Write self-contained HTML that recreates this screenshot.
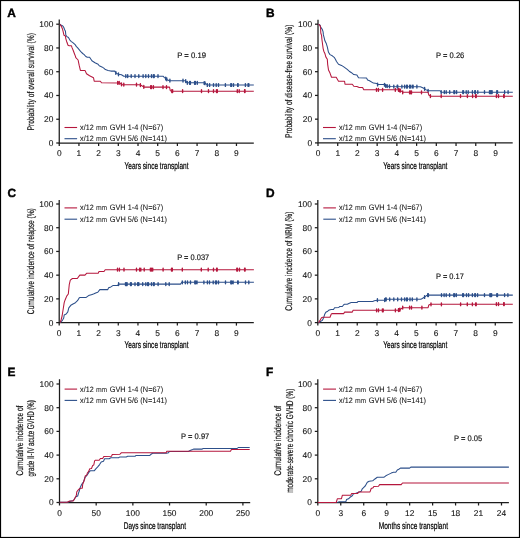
<!DOCTYPE html><html><head><meta charset="utf-8"><style>html,body{margin:0;padding:0;background:#fff;}svg{display:block;will-change:transform;}text{font-family:"Liberation Sans",sans-serif;text-rendering:geometricPrecision;}</style></head><body>
<svg width="520" height="538" viewBox="0 0 520 538">
<rect x="0" y="0" width="520" height="538" fill="#fff"/>
<rect x="0.5" y="0.5" width="519" height="537" fill="none" stroke="#000" stroke-width="1.2"/>
<text x="7.2" y="17" font-size="11.9" font-weight="bold" fill="#000" stroke="#000" stroke-width="0.4">A</text>
<g stroke="#1c1c1c" stroke-width="1.25" fill="none">
<path d="M59.25 19.6V143H253.8"/>
<path d="M56.25 143H59.25"/>
<path d="M56.25 119.24H59.25"/>
<path d="M56.25 95.48H59.25"/>
<path d="M56.25 71.72H59.25"/>
<path d="M56.25 47.96H59.25"/>
<path d="M56.25 24.2H59.25"/>
<path d="M59.25 143V146"/>
<path d="M78.94 143V146"/>
<path d="M98.63 143V146"/>
<path d="M118.32 143V146"/>
<path d="M138.01 143V146"/>
<path d="M157.7 143V146"/>
<path d="M177.39 143V146"/>
<path d="M197.08 143V146"/>
<path d="M216.77 143V146"/>
<path d="M236.46 143V146"/>
</g>
<g font-size="8.4" fill="#111" stroke="#111" stroke-width="0.1">
<text x="53.35" y="145.9" text-anchor="end">0</text>
<text x="53.35" y="122.14" text-anchor="end">20</text>
<text x="53.35" y="98.38" text-anchor="end">40</text>
<text x="53.35" y="74.62" text-anchor="end">60</text>
<text x="53.35" y="50.86" text-anchor="end">80</text>
<text x="53.35" y="27.1" text-anchor="end">100</text>
<text x="59.25" y="156.1" text-anchor="middle">0</text>
<text x="78.94" y="156.1" text-anchor="middle">1</text>
<text x="98.63" y="156.1" text-anchor="middle">2</text>
<text x="118.32" y="156.1" text-anchor="middle">3</text>
<text x="138.01" y="156.1" text-anchor="middle">4</text>
<text x="157.7" y="156.1" text-anchor="middle">5</text>
<text x="177.39" y="156.1" text-anchor="middle">6</text>
<text x="197.08" y="156.1" text-anchor="middle">7</text>
<text x="216.77" y="156.1" text-anchor="middle">8</text>
<text x="236.46" y="156.1" text-anchor="middle">9</text>
</g>
<text x="156.53" y="168.8" font-size="9.7" text-anchor="middle" textLength="64" lengthAdjust="spacingAndGlyphs" fill="#000" stroke="#000" stroke-width="0.22">Years since transplant</text>
<text transform="translate(34 81.8) rotate(-90)" x="0" y="0" font-size="9.7" text-anchor="middle" textLength="97.6" lengthAdjust="spacingAndGlyphs" fill="#111" stroke="#111" stroke-width="0.18">Probability of overall survival (%)</text>
<text x="177.2" y="58.2" font-size="8.0" fill="#111" stroke="#111" stroke-width="0.15" textLength="28.8" lengthAdjust="spacingAndGlyphs">P = 0.19</text>
<path d="M64.5 127.5H77.1" stroke="#b5173d" stroke-width="1.1"/>
<path d="M64.5 138.7H77.1" stroke="#2c4f8a" stroke-width="1.1"/>
<g font-size="8.0" fill="#111" stroke="#111" stroke-width="0.06">
<text x="80.1" y="130" font-size="7.8" textLength="13.6" lengthAdjust="spacingAndGlyphs">x/12</text>
<text x="95.9" y="130" font-size="7.1" fill="#333" stroke="#333" stroke-width="0.08" textLength="11.3" lengthAdjust="spacingAndGlyphs">mm</text>
<text x="109.7" y="130" textLength="53.4" lengthAdjust="spacingAndGlyphs">GVH 1-4 (N=67)</text>
</g>
<g font-size="8.0" fill="#111" stroke="#111" stroke-width="0.06">
<text x="80.1" y="141.2" font-size="7.8" textLength="13.6" lengthAdjust="spacingAndGlyphs">x/12</text>
<text x="95.9" y="141.2" font-size="7.1" fill="#333" stroke="#333" stroke-width="0.08" textLength="11.3" lengthAdjust="spacingAndGlyphs">mm</text>
<text x="109.7" y="141.2" textLength="57.4" lengthAdjust="spacingAndGlyphs">GVH 5/6 (N=141)</text>
</g>
<path d="M59.86 24.24 L61.35 25.2 L62.83 25.95 L63.58 27.06 L64.69 29.67 L65.43 31.15 L65.8 34.87 L66.55 36.36 L68.41 37.47 L69.9 40.07 L71.38 41.56 L72.87 42.68 L75.1 44.54 L76.22 46.39 L77.7 47.88 L79.56 50.11 L81.05 51.97 L82.7 53.5 L84.2 54.6 L85.8 56.5 L87.3 57.3 L89.6 57.3 L91.9 60.8 L95 62.7 L98.1 64.2 L99.2 65.8 L101.9 66.9 L103.8 68.1 L105.4 69.6 L108.1 70.4 L110.8 71.1 L114.6 71.1 L115.8 72.8 L116.9 73.5 L118.5 74.3 L121.5 74.7 L123.8 76.2 L163 76.2 L164.2 77.4 L165.7 78.5 L167.2 79.7 L169.5 80.7 L185 80.7 L186.2 81.6 L187.3 82.8 L203.5 82.8 L205.8 83.5 L207.3 85 L253.8 85" stroke="#2c4f8a" stroke-width="1.05" fill="none" stroke-linejoin="round"/>
<path d="M115.8 71.4v2.8M118.5 72.9v2.8M125.8 74.8v2.8M127.7 74.8v2.8M131.2 74.8v2.8M135 74.8v2.8M138.8 74.8v2.8M143.1 74.8v2.8M145.8 74.8v2.8M148.5 74.8v2.8M151.5 74.8v2.8M153.4 74.8v2.8M154.2 74.8v2.8M158 74.8v2.8M165.7 77.1v2.8M166.8 77.98v2.8M169.9 79.3v2.8M183 79.3v2.8M185.7 79.82v2.8M187.3 81.4v2.8M189.6 81.4v2.8M190.4 81.4v2.8M194.6 81.4v2.8M195.4 81.4v2.8M197.3 81.4v2.8M204.2 81.61v2.8M205 81.86v2.8M207.3 83.6v2.8M209.6 83.6v2.8M213.5 83.6v2.8M216.2 83.6v2.8M218.5 83.6v2.8M225.4 83.6v2.8M230.8 83.6v2.8M231.5 83.6v2.8M233.5 83.6v2.8M237.7 83.6v2.8M238.1 83.6v2.8M245.4 83.6v2.8M248.1 83.6v2.8M248.8 83.6v2.8" stroke="#2c4f8a" stroke-width="1.4" fill="none" stroke-linecap="round"/>
<path d="M59.86 24.24 L61.35 26.32 L62.46 28.92 L63.2 31.9 L63.95 35.24 L65.43 35.98 L65.8 38.59 L66.92 42.3 L68.04 45.28 L69.15 45.65 L71.38 45.65 L72.13 47.88 L73.24 50.48 L74.36 53.46 L75.47 56.43 L75.8 57.7 L78.1 60 L79.2 65.4 L80.4 70.4 L85 70.4 L86.5 73.8 L89.6 75.8 L93.5 77.7 L94.2 81.2 L100.4 81.2 L101.5 82.7 L120 82.9 L121.2 84.3 L122.3 84.7 L139.2 84.7 L141.5 85.5 L143.1 86.6 L144.2 87.1 L169.5 87.1 L170.3 90.6 L171.1 91.2 L253.8 91.2" stroke="#b5173d" stroke-width="1.05" fill="none" stroke-linejoin="round"/>
<path d="M117.7 81.48v2.8M119.2 81.49v2.8M121.5 83.01v2.8M123.8 83.3v2.8M136.5 83.3v2.8M140.4 83.72v2.8M143.8 85.52v2.8M150.7 85.7v2.8M151.5 85.7v2.8M153.4 85.7v2.8M163 85.7v2.8M166.5 85.7v2.8M171.8 89.8v2.8M172.6 89.8v2.8M182.6 89.8v2.8M201.5 89.8v2.8M208.5 89.8v2.8M213.5 89.8v2.8M216.5 89.8v2.8M217.3 89.8v2.8M237.3 89.8v2.8M239.2 89.8v2.8M244.6 89.8v2.8M245 89.8v2.8" stroke="#b5173d" stroke-width="1.4" fill="none" stroke-linecap="round"/>
<text x="266.1" y="16.8" font-size="11.9" font-weight="bold" fill="#000" stroke="#000" stroke-width="0.4">B</text>
<g stroke="#1c1c1c" stroke-width="1.25" fill="none">
<path d="M318 19.8V142.9H512.7"/>
<path d="M315 142.9H318"/>
<path d="M315 119.16H318"/>
<path d="M315 95.42H318"/>
<path d="M315 71.68H318"/>
<path d="M315 47.94H318"/>
<path d="M315 24.2H318"/>
<path d="M318 142.9V145.9"/>
<path d="M337.72 142.9V145.9"/>
<path d="M357.44 142.9V145.9"/>
<path d="M377.16 142.9V145.9"/>
<path d="M396.88 142.9V145.9"/>
<path d="M416.6 142.9V145.9"/>
<path d="M436.32 142.9V145.9"/>
<path d="M456.04 142.9V145.9"/>
<path d="M475.76 142.9V145.9"/>
<path d="M495.48 142.9V145.9"/>
</g>
<g font-size="8.4" fill="#111" stroke="#111" stroke-width="0.1">
<text x="312.1" y="145.8" text-anchor="end">0</text>
<text x="312.1" y="122.06" text-anchor="end">20</text>
<text x="312.1" y="98.32" text-anchor="end">40</text>
<text x="312.1" y="74.58" text-anchor="end">60</text>
<text x="312.1" y="50.84" text-anchor="end">80</text>
<text x="312.1" y="27.1" text-anchor="end">100</text>
<text x="318" y="156" text-anchor="middle">0</text>
<text x="337.72" y="156" text-anchor="middle">1</text>
<text x="357.44" y="156" text-anchor="middle">2</text>
<text x="377.16" y="156" text-anchor="middle">3</text>
<text x="396.88" y="156" text-anchor="middle">4</text>
<text x="416.6" y="156" text-anchor="middle">5</text>
<text x="436.32" y="156" text-anchor="middle">6</text>
<text x="456.04" y="156" text-anchor="middle">7</text>
<text x="475.76" y="156" text-anchor="middle">8</text>
<text x="495.48" y="156" text-anchor="middle">9</text>
</g>
<text x="415.35" y="168.8" font-size="9.7" text-anchor="middle" textLength="64" lengthAdjust="spacingAndGlyphs" fill="#000" stroke="#000" stroke-width="0.22">Years since transplant</text>
<text transform="translate(292 81.3) rotate(-90)" x="0" y="0" font-size="9.7" text-anchor="middle" textLength="113.3" lengthAdjust="spacingAndGlyphs" fill="#111" stroke="#111" stroke-width="0.18">Probability of disease-free survival (%)</text>
<text x="436.1" y="58" font-size="8.0" fill="#111" stroke="#111" stroke-width="0.15" textLength="28.2" lengthAdjust="spacingAndGlyphs">P = 0.26</text>
<path d="M323 127.5H335.8" stroke="#b5173d" stroke-width="1.1"/>
<path d="M323 138.7H335.8" stroke="#2c4f8a" stroke-width="1.1"/>
<g font-size="8.0" fill="#111" stroke="#111" stroke-width="0.06">
<text x="339.1" y="130" font-size="7.8" textLength="13.6" lengthAdjust="spacingAndGlyphs">x/12</text>
<text x="354.9" y="130" font-size="7.1" fill="#333" stroke="#333" stroke-width="0.08" textLength="11.3" lengthAdjust="spacingAndGlyphs">mm</text>
<text x="368.7" y="130" textLength="53.4" lengthAdjust="spacingAndGlyphs">GVH 1-4 (N=67)</text>
</g>
<g font-size="8.0" fill="#111" stroke="#111" stroke-width="0.06">
<text x="339.1" y="141.2" font-size="7.8" textLength="13.6" lengthAdjust="spacingAndGlyphs">x/12</text>
<text x="354.9" y="141.2" font-size="7.1" fill="#333" stroke="#333" stroke-width="0.08" textLength="11.3" lengthAdjust="spacingAndGlyphs">mm</text>
<text x="368.7" y="141.2" textLength="57.4" lengthAdjust="spacingAndGlyphs">GVH 5/6 (N=141)</text>
</g>
<path d="M318.6 24.2 L320.1 25.2 L320.8 27.4 L322.3 29.3 L323.1 31.9 L323.4 34.9 L324.2 37.8 L324.9 40.8 L326.4 43.8 L327.3 46.8 L328.5 52.3 L330 54.6 L332.3 55.8 L334.2 57.3 L335.4 59.2 L336.5 61.5 L338.5 64.2 L341.5 65.4 L343.8 66.9 L346.9 69.2 L349.2 71.2 L351.5 72.7 L353.8 74.6 L356.9 75 L358.5 77.7 L366.5 78.1 L367.6 80 L369.5 80.8 L373.4 83.1 L376.8 83.5 L377.6 84.5 L384.2 84.5 L385.7 85.8 L388 86.2 L390.3 86.6 L420.4 86.7 L422.7 87.7 L424.2 88.5 L425.8 89.6 L428.1 90.8 L440.1 90.8 L441.2 92.2 L512.8 92.2" stroke="#2c4f8a" stroke-width="1.05" fill="none" stroke-linejoin="round"/>
<path d="M377.6 83.1v2.8M384.5 83.36v2.8M385.7 84.4v2.8M387.2 84.66v2.8M389.5 85.06v2.8M393.8 85.21v2.8M397.2 85.22v2.8M397.7 85.22v2.8M401.9 85.24v2.8M404.6 85.25v2.8M406.5 85.25v2.8M407.3 85.26v2.8M409.6 85.26v2.8M410.8 85.27v2.8M412.7 85.27v2.8M413.1 85.28v2.8M416.9 85.29v2.8M424.6 87.38v2.8M428.1 89.4v2.8M441.2 90.8v2.8M444.3 90.8v2.8M446.2 90.8v2.8M449.7 90.8v2.8M453.9 90.8v2.8M454.7 90.8v2.8M456.6 90.8v2.8M462.8 90.8v2.8M463.5 90.8v2.8M466.2 90.8v2.8M468.2 90.8v2.8M472.4 90.8v2.8M474.8 90.8v2.8M475.4 90.8v2.8M477.8 90.8v2.8M484.5 90.8v2.8M489.5 90.8v2.8M490.3 90.8v2.8M491.2 90.8v2.8M492.1 90.8v2.8M496.8 90.8v2.8M497.5 90.8v2.8M504.6 90.8v2.8M508.1 90.8v2.8" stroke="#2c4f8a" stroke-width="1.4" fill="none" stroke-linecap="round"/>
<path d="M318.6 24.2 L320.1 25.6 L320.6 28.2 L320.8 33 L321.6 35.6 L321.9 39.3 L322.3 42.3 L322.7 45.3 L323.1 48.3 L323.8 51.2 L325 53.8 L325.8 56.9 L327.3 59.2 L327.7 64.6 L328.5 70 L330 73.1 L331.5 77.3 L336.2 77.3 L338.5 81.2 L344.6 81.2 L345 84.2 L352.3 84.2 L353.8 86.2 L356.9 86.5 L359.2 87.5 L362.6 87.5 L363.8 89.8 L398.1 89.8 L400.4 90.6 L401.9 91.5 L402.7 92.3 L428.1 92.3 L428.8 95 L430.4 96.2 L512.8 96.2" stroke="#b5173d" stroke-width="1.05" fill="none" stroke-linejoin="round"/>
<path d="M376.5 88.4v2.8M378.4 88.4v2.8M382.6 88.4v2.8M395.3 88.4v2.8M398.5 88.54v2.8M399.6 88.92v2.8M400.4 89.2v2.8M402.7 90.9v2.8M409.6 90.9v2.8M410.8 90.9v2.8M411.5 90.9v2.8M421.5 90.9v2.8M430.4 94.8v2.8M441.2 94.8v2.8M460.5 94.8v2.8M467.4 94.8v2.8M472.6 94.8v2.8M475.6 94.8v2.8M476.2 94.8v2.8M496.4 94.8v2.8M498.5 94.8v2.8M503.7 94.8v2.8M504.2 94.8v2.8" stroke="#b5173d" stroke-width="1.4" fill="none" stroke-linecap="round"/>
<text x="7.4" y="196.6" font-size="11.9" font-weight="bold" fill="#000" stroke="#000" stroke-width="0.4">C</text>
<g stroke="#1c1c1c" stroke-width="1.25" fill="none">
<path d="M59.2 199.9V322.6H253.8"/>
<path d="M56.2 322.6H59.2"/>
<path d="M56.2 298.88H59.2"/>
<path d="M56.2 275.16H59.2"/>
<path d="M56.2 251.44H59.2"/>
<path d="M56.2 227.72H59.2"/>
<path d="M56.2 204H59.2"/>
<path d="M59.2 322.6V325.6"/>
<path d="M78.89 322.6V325.6"/>
<path d="M98.58 322.6V325.6"/>
<path d="M118.27 322.6V325.6"/>
<path d="M137.96 322.6V325.6"/>
<path d="M157.65 322.6V325.6"/>
<path d="M177.34 322.6V325.6"/>
<path d="M197.03 322.6V325.6"/>
<path d="M216.72 322.6V325.6"/>
<path d="M236.41 322.6V325.6"/>
</g>
<g font-size="8.4" fill="#111" stroke="#111" stroke-width="0.1">
<text x="53.3" y="325.5" text-anchor="end">0</text>
<text x="53.3" y="301.78" text-anchor="end">20</text>
<text x="53.3" y="278.06" text-anchor="end">40</text>
<text x="53.3" y="254.34" text-anchor="end">60</text>
<text x="53.3" y="230.62" text-anchor="end">80</text>
<text x="53.3" y="206.9" text-anchor="end">100</text>
<text x="59.2" y="335.7" text-anchor="middle">0</text>
<text x="78.89" y="335.7" text-anchor="middle">1</text>
<text x="98.58" y="335.7" text-anchor="middle">2</text>
<text x="118.27" y="335.7" text-anchor="middle">3</text>
<text x="137.96" y="335.7" text-anchor="middle">4</text>
<text x="157.65" y="335.7" text-anchor="middle">5</text>
<text x="177.34" y="335.7" text-anchor="middle">6</text>
<text x="197.03" y="335.7" text-anchor="middle">7</text>
<text x="216.72" y="335.7" text-anchor="middle">8</text>
<text x="236.41" y="335.7" text-anchor="middle">9</text>
</g>
<text x="156.5" y="348.4" font-size="9.7" text-anchor="middle" textLength="64" lengthAdjust="spacingAndGlyphs" fill="#000" stroke="#000" stroke-width="0.22">Years since transplant</text>
<text transform="translate(34 261.2) rotate(-90)" x="0" y="0" font-size="9.7" text-anchor="middle" textLength="105.9" lengthAdjust="spacingAndGlyphs" fill="#111" stroke="#111" stroke-width="0.18">Cumulative incidence of relapse (%)</text>
<text x="177.2" y="259.7" font-size="8.0" fill="#111" stroke="#111" stroke-width="0.15" textLength="32" lengthAdjust="spacingAndGlyphs">P = 0.037</text>
<path d="M64.5 207.9H77.1" stroke="#b5173d" stroke-width="1.1"/>
<path d="M64.5 219.2H77.1" stroke="#2c4f8a" stroke-width="1.1"/>
<g font-size="8.0" fill="#111" stroke="#111" stroke-width="0.06">
<text x="80.1" y="210.4" font-size="7.8" textLength="13.6" lengthAdjust="spacingAndGlyphs">x/12</text>
<text x="95.9" y="210.4" font-size="7.1" fill="#333" stroke="#333" stroke-width="0.08" textLength="11.3" lengthAdjust="spacingAndGlyphs">mm</text>
<text x="109.7" y="210.4" textLength="53.4" lengthAdjust="spacingAndGlyphs">GVH 1-4 (N=67)</text>
</g>
<g font-size="8.0" fill="#111" stroke="#111" stroke-width="0.06">
<text x="80.1" y="221.7" font-size="7.8" textLength="13.6" lengthAdjust="spacingAndGlyphs">x/12</text>
<text x="95.9" y="221.7" font-size="7.1" fill="#333" stroke="#333" stroke-width="0.08" textLength="11.3" lengthAdjust="spacingAndGlyphs">mm</text>
<text x="109.7" y="221.7" textLength="57.4" lengthAdjust="spacingAndGlyphs">GVH 5/6 (N=141)</text>
</g>
<path d="M60.2 322.6 L61.5 321.4 L62.6 320.1 L63.7 318.1 L64.2 315 L66.2 314 L67.8 311.9 L68.8 307.8 L70.8 305.3 L73 304 L75.4 302.7 L77.5 300.7 L79.3 297.8 L80.2 297.4 L86.2 297.4 L88.6 295.6 L92.2 294.4 L94 293.8 L96.3 292.7 L97.8 292.3 L99.8 289.6 L107.8 289.6 L108.6 287.7 L110.9 286.9 L113.2 285.4 L117.8 285.4 L118.6 284.1 L180.5 284.1 L181.8 282.3 L253.9 282.3" stroke="#2c4f8a" stroke-width="1.05" fill="none" stroke-linejoin="round"/>
<path d="M118.6 282.7v2.8M125.5 282.7v2.8M126.3 282.7v2.8M127.1 282.7v2.8M130.5 282.7v2.8M131.3 282.7v2.8M135 282.7v2.8M137.7 282.7v2.8M138.8 282.7v2.8M142.7 282.7v2.8M145.8 282.7v2.8M147.7 282.7v2.8M148.5 282.7v2.8M151.5 282.7v2.8M153.5 282.7v2.8M154.2 282.7v2.8M158.1 282.7v2.8M165.8 282.7v2.8M169.2 282.7v2.8M182.3 280.9v2.8M185.3 280.9v2.8M187.5 280.9v2.8M190.5 280.9v2.8M194.8 280.9v2.8M195.7 280.9v2.8M197 280.9v2.8M203.9 280.9v2.8M207.4 280.9v2.8M209.5 280.9v2.8M213.2 280.9v2.8M215.5 280.9v2.8M216.5 280.9v2.8M218.5 280.9v2.8M225.5 280.9v2.8M230.8 280.9v2.8M231.7 280.9v2.8M233.1 280.9v2.8M237.7 280.9v2.8M238.2 280.9v2.8M245.5 280.9v2.8M248.8 280.9v2.8" stroke="#2c4f8a" stroke-width="1.4" fill="none" stroke-linecap="round"/>
<path d="M60.2 322.6 L61.2 319.5 L62.1 316 L63.2 309 L64.2 302.7 L65.2 299.7 L66.7 296.1 L68.3 294 L69.3 284.3 L70.3 280.2 L72.4 278.5 L77.3 278.5 L79.8 275.1 L85 275.1 L86.8 273.2 L98.2 273.2 L99 271.5 L104 271.5 L105.2 269.7 L253.9 269.7" stroke="#b5173d" stroke-width="1.05" fill="none" stroke-linejoin="round"/>
<path d="M117.5 268.3v2.8M119.4 268.3v2.8M124 268.3v2.8M136.5 268.3v2.8M139.6 268.3v2.8M140.8 268.3v2.8M144.2 268.3v2.8M150.4 268.3v2.8M151.5 268.3v2.8M152.7 268.3v2.8M163.1 268.3v2.8M171.5 268.3v2.8M172.3 268.3v2.8M182.3 268.3v2.8M201.3 268.3v2.8M208.2 268.3v2.8M213.5 268.3v2.8M216.6 268.3v2.8M217.2 268.3v2.8M236.8 268.3v2.8M237.5 268.3v2.8M239.5 268.3v2.8M244.6 268.3v2.8M245.1 268.3v2.8" stroke="#b5173d" stroke-width="1.4" fill="none" stroke-linecap="round"/>
<text x="266" y="196.8" font-size="11.9" font-weight="bold" fill="#000" stroke="#000" stroke-width="0.4">D</text>
<g stroke="#1c1c1c" stroke-width="1.25" fill="none">
<path d="M317.8 199.9V322.6H512.7"/>
<path d="M314.8 322.6H317.8"/>
<path d="M314.8 298.88H317.8"/>
<path d="M314.8 275.16H317.8"/>
<path d="M314.8 251.44H317.8"/>
<path d="M314.8 227.72H317.8"/>
<path d="M314.8 204H317.8"/>
<path d="M317.8 322.6V325.6"/>
<path d="M337.52 322.6V325.6"/>
<path d="M357.24 322.6V325.6"/>
<path d="M376.96 322.6V325.6"/>
<path d="M396.68 322.6V325.6"/>
<path d="M416.4 322.6V325.6"/>
<path d="M436.12 322.6V325.6"/>
<path d="M455.84 322.6V325.6"/>
<path d="M475.56 322.6V325.6"/>
<path d="M495.28 322.6V325.6"/>
</g>
<g font-size="8.4" fill="#111" stroke="#111" stroke-width="0.1">
<text x="311.9" y="325.5" text-anchor="end">0</text>
<text x="311.9" y="301.78" text-anchor="end">20</text>
<text x="311.9" y="278.06" text-anchor="end">40</text>
<text x="311.9" y="254.34" text-anchor="end">60</text>
<text x="311.9" y="230.62" text-anchor="end">80</text>
<text x="311.9" y="206.9" text-anchor="end">100</text>
<text x="317.8" y="335.7" text-anchor="middle">0</text>
<text x="337.52" y="335.7" text-anchor="middle">1</text>
<text x="357.24" y="335.7" text-anchor="middle">2</text>
<text x="376.96" y="335.7" text-anchor="middle">3</text>
<text x="396.68" y="335.7" text-anchor="middle">4</text>
<text x="416.4" y="335.7" text-anchor="middle">5</text>
<text x="436.12" y="335.7" text-anchor="middle">6</text>
<text x="455.84" y="335.7" text-anchor="middle">7</text>
<text x="475.56" y="335.7" text-anchor="middle">8</text>
<text x="495.28" y="335.7" text-anchor="middle">9</text>
</g>
<text x="415.25" y="348.4" font-size="9.7" text-anchor="middle" textLength="64" lengthAdjust="spacingAndGlyphs" fill="#000" stroke="#000" stroke-width="0.22">Years since transplant</text>
<text transform="translate(292 261.2) rotate(-90)" x="0" y="0" font-size="9.7" text-anchor="middle" textLength="99.3" lengthAdjust="spacingAndGlyphs" fill="#111" stroke="#111" stroke-width="0.18">Cumulative incidence of NRM (%)</text>
<text x="436" y="278.5" font-size="8.0" fill="#111" stroke="#111" stroke-width="0.15" textLength="27.9" lengthAdjust="spacingAndGlyphs">P = 0.17</text>
<path d="M323.3 207.9H335.9" stroke="#b5173d" stroke-width="1.1"/>
<path d="M323.3 219.2H335.9" stroke="#2c4f8a" stroke-width="1.1"/>
<g font-size="8.0" fill="#111" stroke="#111" stroke-width="0.06">
<text x="339.1" y="210.4" font-size="7.8" textLength="13.6" lengthAdjust="spacingAndGlyphs">x/12</text>
<text x="354.9" y="210.4" font-size="7.1" fill="#333" stroke="#333" stroke-width="0.08" textLength="11.3" lengthAdjust="spacingAndGlyphs">mm</text>
<text x="368.7" y="210.4" textLength="53.4" lengthAdjust="spacingAndGlyphs">GVH 1-4 (N=67)</text>
</g>
<g font-size="8.0" fill="#111" stroke="#111" stroke-width="0.06">
<text x="339.1" y="221.7" font-size="7.8" textLength="13.6" lengthAdjust="spacingAndGlyphs">x/12</text>
<text x="354.9" y="221.7" font-size="7.1" fill="#333" stroke="#333" stroke-width="0.08" textLength="11.3" lengthAdjust="spacingAndGlyphs">mm</text>
<text x="368.7" y="221.7" textLength="57.4" lengthAdjust="spacingAndGlyphs">GVH 5/6 (N=141)</text>
</g>
<path d="M318.5 322.7 L320.8 321.2 L322.3 320.4 L323.5 318.1 L324.6 314.6 L325.8 312.3 L327.7 311.2 L329.2 310 L331.2 309.5 L333.5 309.5 L334.6 307.7 L338.8 307.5 L339.6 306.5 L342.3 306.5 L343.5 305 L344.6 304.2 L347.3 304.2 L348.8 303.5 L351.2 302.5 L357 302.5 L358.2 301.4 L372.8 301.4 L374.3 300.8 L377.4 300.2 L384.7 300.2 L385.4 299.3 L420.8 299.3 L422.3 298.5 L424.2 297.3 L426.2 295.8 L427.7 295.1 L512.8 295.1" stroke="#2c4f8a" stroke-width="1.05" fill="none" stroke-linejoin="round"/>
<path d="M377.4 298.8v2.8M384.7 298.8v2.8M385.5 297.9v2.8M386.2 297.9v2.8M389.7 297.9v2.8M393.8 297.9v2.8M397.7 297.9v2.8M401.5 297.9v2.8M404.6 297.9v2.8M406.5 297.9v2.8M407.3 297.9v2.8M410 297.9v2.8M412.3 297.9v2.8M416.9 297.9v2.8M424.6 295.6v2.8M427.7 293.7v2.8M428.4 293.7v2.8M441.5 293.7v2.8M444.1 293.7v2.8M446.2 293.7v2.8M449.6 293.7v2.8M453.8 293.7v2.8M454.6 293.7v2.8M456.3 293.7v2.8M462.7 293.7v2.8M463.5 293.7v2.8M466.5 293.7v2.8M468.6 293.7v2.8M472.4 293.7v2.8M474.8 293.7v2.8M475.4 293.7v2.8M477.6 293.7v2.8M484.5 293.7v2.8M489.9 293.7v2.8M490.8 293.7v2.8M491.6 293.7v2.8M496.8 293.7v2.8M497.5 293.7v2.8M504.6 293.7v2.8M507.9 293.7v2.8" stroke="#2c4f8a" stroke-width="1.4" fill="none" stroke-linecap="round"/>
<path d="M318.5 322.7 L320 320.4 L321.5 317.7 L322.7 317.3 L330 317.3 L331.2 314.2 L331.9 313.6 L343.8 313.6 L344.6 312.1 L352.3 312.1 L353.1 310.3 L397.7 310.3 L400 309.6 L401.5 308.5 L402.7 307.7 L428.1 307.7 L428.8 305 L430.5 304.3 L512.8 304.2" stroke="#b5173d" stroke-width="1.05" fill="none" stroke-linejoin="round"/>
<path d="M376.6 308.9v2.8M378.5 308.9v2.8M382.4 308.9v2.8M383.2 308.9v2.8M395.4 308.9v2.8M398.5 308.66v2.8M399.2 308.44v2.8M400 308.2v2.8M402.7 306.3v2.8M409.6 306.3v2.8M411.5 306.3v2.8M421.9 306.3v2.8M431 302.9v2.8M441.4 302.89v2.8M460.6 302.86v2.8M467.3 302.86v2.8M472.4 302.85v2.8M475.6 302.85v2.8M476.2 302.84v2.8M496.4 302.82v2.8M498.5 302.82v2.8M503.7 302.81v2.8M504.2 302.81v2.8" stroke="#b5173d" stroke-width="1.4" fill="none" stroke-linecap="round"/>
<text x="7.4" y="376.4" font-size="11.9" font-weight="bold" fill="#000" stroke="#000" stroke-width="0.4">E</text>
<g stroke="#1c1c1c" stroke-width="1.25" fill="none">
<path d="M59.5 379.2V502.5H250.2"/>
<path d="M56.5 502.5H59.5"/>
<path d="M56.5 478.8H59.5"/>
<path d="M56.5 455.1H59.5"/>
<path d="M56.5 431.4H59.5"/>
<path d="M56.5 407.7H59.5"/>
<path d="M56.5 384H59.5"/>
<path d="M59.5 502.5V505.5"/>
<path d="M96.18 502.5V505.5"/>
<path d="M132.86 502.5V505.5"/>
<path d="M169.54 502.5V505.5"/>
<path d="M206.22 502.5V505.5"/>
<path d="M242.9 502.5V505.5"/>
</g>
<g font-size="8.4" fill="#111" stroke="#111" stroke-width="0.1">
<text x="53.6" y="505.4" text-anchor="end">0</text>
<text x="53.6" y="481.7" text-anchor="end">20</text>
<text x="53.6" y="458" text-anchor="end">40</text>
<text x="53.6" y="434.3" text-anchor="end">60</text>
<text x="53.6" y="410.6" text-anchor="end">80</text>
<text x="53.6" y="386.9" text-anchor="end">100</text>
<text x="59.5" y="515.6" text-anchor="middle">0</text>
<text x="96.18" y="515.6" text-anchor="middle">50</text>
<text x="132.86" y="515.6" text-anchor="middle">100</text>
<text x="169.54" y="515.6" text-anchor="middle">150</text>
<text x="206.22" y="515.6" text-anchor="middle">200</text>
<text x="242.9" y="515.6" text-anchor="middle">250</text>
</g>
<text x="154.85" y="528.8" font-size="9.7" text-anchor="middle" textLength="62.3" lengthAdjust="spacingAndGlyphs" fill="#000" stroke="#000" stroke-width="0.22">Days since transplant</text>
<text transform="translate(23.3 440.5) rotate(-90)" x="0" y="0" font-size="9.7" text-anchor="middle" textLength="69.8" lengthAdjust="spacingAndGlyphs" fill="#111" stroke="#111" stroke-width="0.18">Cumulative incidence of</text>
<text transform="translate(34.3 438.3) rotate(-90)" x="0" y="0" font-size="9.7" text-anchor="middle" textLength="76.4" lengthAdjust="spacingAndGlyphs" fill="#111" stroke="#111" stroke-width="0.18">grade II-IV acute GVHD (%)</text>
<text x="181.1" y="438.6" font-size="8.0" fill="#111" stroke="#111" stroke-width="0.15" textLength="28.2" lengthAdjust="spacingAndGlyphs">P = 0.97</text>
<path d="M64.6 389.1H77.1" stroke="#b5173d" stroke-width="1.1"/>
<path d="M64.6 400.4H77.1" stroke="#2c4f8a" stroke-width="1.1"/>
<g font-size="8.0" fill="#111" stroke="#111" stroke-width="0.06">
<text x="80.1" y="391.6" font-size="7.8" textLength="13.6" lengthAdjust="spacingAndGlyphs">x/12</text>
<text x="95.9" y="391.6" font-size="7.1" fill="#333" stroke="#333" stroke-width="0.08" textLength="11.3" lengthAdjust="spacingAndGlyphs">mm</text>
<text x="109.7" y="391.6" textLength="53.4" lengthAdjust="spacingAndGlyphs">GVH 1-4 (N=67)</text>
</g>
<g font-size="8.0" fill="#111" stroke="#111" stroke-width="0.06">
<text x="80.1" y="402.9" font-size="7.8" textLength="13.6" lengthAdjust="spacingAndGlyphs">x/12</text>
<text x="95.9" y="402.9" font-size="7.1" fill="#333" stroke="#333" stroke-width="0.08" textLength="11.3" lengthAdjust="spacingAndGlyphs">mm</text>
<text x="109.7" y="402.9" textLength="57.4" lengthAdjust="spacingAndGlyphs">GVH 5/6 (N=141)</text>
</g>
<path d="M59.7 502.3 L68 502.3 L69.7 501.4 L73.5 500.5 L74.7 498.5 L76 496.8 L77.7 496 L78.5 493.1 L79.3 491 L80.2 487.6 L81.4 485.1 L82.3 483.4 L83.5 482.2 L84.8 477.6 L86 476.3 L87.7 474.2 L89 472.1 L90.2 470.8 L94.2 470.8 L95.8 468.8 L97.7 466.9 L99.6 464.6 L101.2 461.9 L103.5 461.2 L104.6 458.8 L109.2 458.8 L110.8 457.8 L118.5 457.8 L119.6 457.1 L126.2 456.9 L127.7 456.2 L135.3 456.2 L136.1 455.4 L149.9 455.4 L151.1 454.2 L152.6 453.2 L166.5 453.2 L168.5 452.7 L169.3 451.4 L188.4 451.4 L190.1 450.6 L192.7 449.5 L193.5 449.1 L202.2 449.1 L203.1 448.5 L237.2 448.5 L238.2 447.5 L249.7 447.5" stroke="#2c4f8a" stroke-width="1.05" fill="none" stroke-linejoin="round"/>
<path d="M59.7 502.3 L67.2 502.3 L69.7 501 L73.1 501 L74.3 499.3 L75.6 496.8 L76.4 495.1 L76.8 491.8 L78.1 490.1 L79.8 488.5 L81 488.2 L82.3 488.2 L82.7 484.3 L83.5 482.2 L84.8 478.8 L85.2 475.9 L86.9 475.1 L87.3 473 L88.5 471.7 L89.8 468.8 L91.5 468.5 L92.7 465.4 L93.8 465 L94.6 460.8 L95.4 460.2 L99.2 460.2 L100.4 458.5 L102.7 458.5 L103.8 456.5 L111.5 456.2 L112.3 454.5 L120 454.2 L121.5 452.7 L166.1 452.7 L166.8 451.2 L230.5 451.2 L231.4 449.4 L249.7 449.4" stroke="#b5173d" stroke-width="1.05" fill="none" stroke-linejoin="round"/>
<text x="266" y="376.2" font-size="11.9" font-weight="bold" fill="#000" stroke="#000" stroke-width="0.4">F</text>
<g stroke="#1c1c1c" stroke-width="1.25" fill="none">
<path d="M317.8 379.2V502.5H508.9"/>
<path d="M314.8 502.5H317.8"/>
<path d="M314.8 478.8H317.8"/>
<path d="M314.8 455.1H317.8"/>
<path d="M314.8 431.4H317.8"/>
<path d="M314.8 407.7H317.8"/>
<path d="M314.8 384H317.8"/>
<path d="M317.8 502.5V505.5"/>
<path d="M340.76 502.5V505.5"/>
<path d="M363.72 502.5V505.5"/>
<path d="M386.69 502.5V505.5"/>
<path d="M409.65 502.5V505.5"/>
<path d="M432.61 502.5V505.5"/>
<path d="M455.57 502.5V505.5"/>
<path d="M478.53 502.5V505.5"/>
<path d="M501.5 502.5V505.5"/>
</g>
<g font-size="8.4" fill="#111" stroke="#111" stroke-width="0.1">
<text x="311.9" y="505.4" text-anchor="end">0</text>
<text x="311.9" y="481.7" text-anchor="end">20</text>
<text x="311.9" y="458" text-anchor="end">40</text>
<text x="311.9" y="434.3" text-anchor="end">60</text>
<text x="311.9" y="410.6" text-anchor="end">80</text>
<text x="311.9" y="386.9" text-anchor="end">100</text>
<text x="317.8" y="515.6" text-anchor="middle">0</text>
<text x="340.76" y="515.6" text-anchor="middle">3</text>
<text x="363.72" y="515.6" text-anchor="middle">6</text>
<text x="386.69" y="515.6" text-anchor="middle">9</text>
<text x="409.65" y="515.6" text-anchor="middle">12</text>
<text x="432.61" y="515.6" text-anchor="middle">15</text>
<text x="455.57" y="515.6" text-anchor="middle">18</text>
<text x="478.53" y="515.6" text-anchor="middle">21</text>
<text x="501.5" y="515.6" text-anchor="middle">24</text>
</g>
<text x="413.35" y="528.8" font-size="9.7" text-anchor="middle" textLength="69.2" lengthAdjust="spacingAndGlyphs" fill="#000" stroke="#000" stroke-width="0.22">Months since transplant</text>
<text transform="translate(281 440.7) rotate(-90)" x="0" y="0" font-size="9.7" text-anchor="middle" textLength="69.8" lengthAdjust="spacingAndGlyphs" fill="#111" stroke="#111" stroke-width="0.18">Cumulative incidence of</text>
<text transform="translate(292.8 440.7) rotate(-90)" x="0" y="0" font-size="9.7" text-anchor="middle" textLength="104.2" lengthAdjust="spacingAndGlyphs" fill="#111" stroke="#111" stroke-width="0.18">moderate-severe chronic GVHD (%)</text>
<text x="453.9" y="441.2" font-size="8.0" fill="#111" stroke="#111" stroke-width="0.15" textLength="28.3" lengthAdjust="spacingAndGlyphs">P = 0.05</text>
<path d="M323.1 389.1H336" stroke="#b5173d" stroke-width="1.1"/>
<path d="M323.1 400.4H336" stroke="#2c4f8a" stroke-width="1.1"/>
<g font-size="8.0" fill="#111" stroke="#111" stroke-width="0.06">
<text x="339.1" y="391.6" font-size="7.8" textLength="13.6" lengthAdjust="spacingAndGlyphs">x/12</text>
<text x="354.9" y="391.6" font-size="7.1" fill="#333" stroke="#333" stroke-width="0.08" textLength="11.3" lengthAdjust="spacingAndGlyphs">mm</text>
<text x="368.7" y="391.6" textLength="53.4" lengthAdjust="spacingAndGlyphs">GVH 1-4 (N=67)</text>
</g>
<g font-size="8.0" fill="#111" stroke="#111" stroke-width="0.06">
<text x="339.1" y="402.9" font-size="7.8" textLength="13.6" lengthAdjust="spacingAndGlyphs">x/12</text>
<text x="354.9" y="402.9" font-size="7.1" fill="#333" stroke="#333" stroke-width="0.08" textLength="11.3" lengthAdjust="spacingAndGlyphs">mm</text>
<text x="368.7" y="402.9" textLength="57.4" lengthAdjust="spacingAndGlyphs">GVH 5/6 (N=141)</text>
</g>
<path d="M337.3 502.5 L339.2 501.8 L345.8 501.8 L346.5 499.6 L348.5 498.8 L350 497.3 L352.3 495.8 L353.5 493.8 L355.4 493.5 L359.2 491.9 L361.2 491.2 L362.3 488.8 L363.8 487.3 L365.2 486 L366.2 484.2 L367.3 482.3 L369.2 481.2 L372.7 480.8 L374.6 479.2 L377.3 477.3 L383.8 477.3 L385.8 475.8 L388.1 474.6 L391.2 473.1 L393.5 472.3 L395.8 472.3 L397.3 470 L398.8 469.2 L400.4 468.1 L409.6 468.1 L410.8 467.1 L508.9 467.1" stroke="#2c4f8a" stroke-width="1.05" fill="none" stroke-linejoin="round"/>
<path d="M317.8 502.5 L336.2 502.5 L337.3 498.8 L341.5 498.7 L342.3 495.3 L350.8 495.2 L351.5 493.6 L357.7 493.5 L358.8 491.9 L370 491.9 L371.2 488.5 L373.1 487.7 L373.8 486.4 L378.5 486.2 L379.6 484.6 L401.2 484.6 L402.5 483 L508.9 483" stroke="#b5173d" stroke-width="1.05" fill="none" stroke-linejoin="round"/>
</svg></body></html>
